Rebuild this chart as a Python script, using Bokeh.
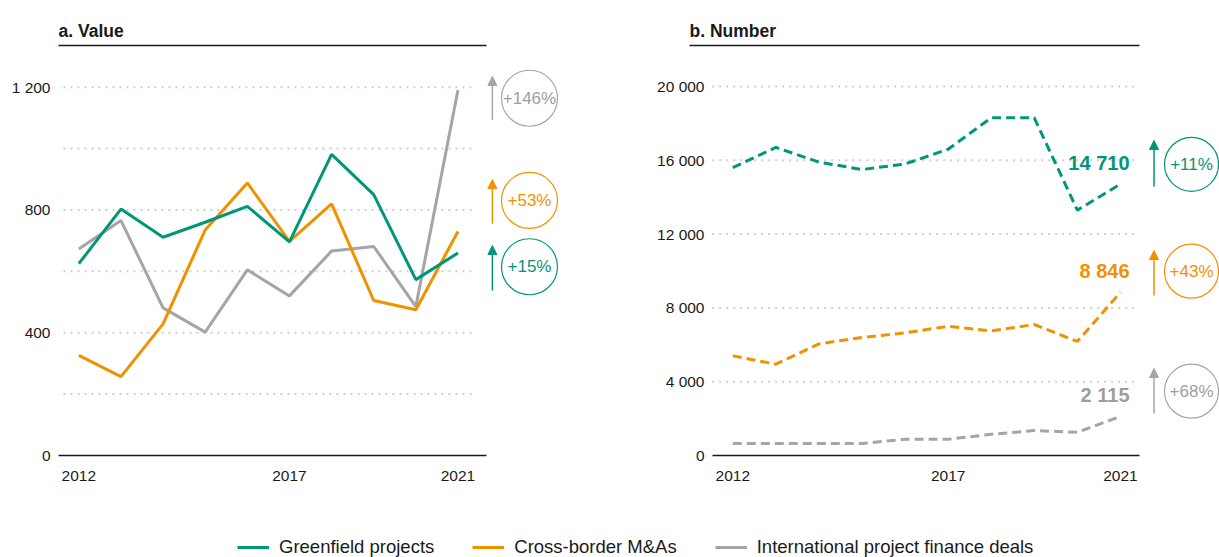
from bokeh.plotting import figure
from bokeh.layouts import column, row
from bokeh.models import (LinearAxis, FixedTicker, Range1d, Arrow, NormalHead,
                          Legend, LegendItem)
from bokeh.embed import file_html
from bokeh.resources import INLINE
from bokeh.core.properties import value

# ---------------- data ----------------
years = list(range(2012, 2022))

value_greenfield = [625, 803, 711, 760, 812, 696, 981, 850, 573, 660]
value_mna = [326, 257, 429, 735, 888, 698, 820, 505, 475, 730]
value_finance = [673, 766, 481, 402, 605, 520, 666, 681, 485, 1191]

number_greenfield = [15600, 16700, 15900, 15500, 15800, 16600, 18300, 18300, 13300, 14710]
number_mna = [5400, 4950, 6050, 6400, 6650, 7000, 6750, 7100, 6180, 8846]
number_finance = [650, 650, 650, 650, 880, 880, 1150, 1350, 1260, 2115]

value_change = ["+15%", "+53%", "+146%"]
number_change = ["+11%", "+43%", "+68%"]

x_ticks = [2012, 2017, 2021]
value_ticks = [0, 400, 800, 1200]
value_tick_labels = ["0", "400", "800", "1 200"]
value_grid = [200, 400, 600, 800, 1000, 1200]
number_ticks = [0, 4000, 8000, 12000, 16000, 20000]
number_tick_labels = ["0", "4 000", "8 000", "12 000", "16 000", "20 000"]
number_grid = [4000, 8000, 12000, 16000, 20000]

series_names = ["Greenfield projects", "Cross-border M&As", "International project finance deals"]

# ---------------- style ----------------
GREEN = "#00967A"
ORANGE = "#F29100"
GRAY = "#A5A5A5"
GRAY_TEXT = "#9E9E9E"
INK = "#1A1A1A"
GRID = "#CFCFCF"
SANS = "Liberation Sans"
colors = [GREEN, ORANGE, GRAY]

H = 500


def make_panel(title, width, b_left, b_right, xr, yr, ticks, tick_labels, grid_vals,
               axis_bounds, grid_bounds, ylabel_standoff):
    p = figure(width=width, height=H, output_backend="svg", toolbar_location=None,
               x_range=Range1d(*xr), y_range=Range1d(*yr),
               x_axis_type=None, y_axis_type=None,
               min_border_left=b_left, min_border_right=b_right,
               min_border_top=45, min_border_bottom=45)
    p.outline_line_color = None
    p.background_fill_color = None
    p.border_fill_color = None

    p.title.text = title
    p.title.align = "left"
    p.title.text_font = SANS
    p.title.text_font_size = "17.5px"
    p.title.text_font_style = "bold"
    p.title.text_color = INK
    p.title.standoff = 9

    top = LinearAxis(ticker=FixedTicker(ticks=[]), bounds=(xr[0], axis_bounds[1]),
                     axis_line_color=INK, axis_line_width=1.5,
                     major_tick_out=0, major_tick_in=0, minor_tick_out=0, minor_tick_in=0,
                     major_label_standoff=0, major_label_text_font_size="0px")
    p.add_layout(top, "above")

    xaxis = LinearAxis(ticker=FixedTicker(ticks=x_ticks), bounds=axis_bounds,
                       axis_line_color=INK, axis_line_width=1.5,
                       major_tick_out=0, major_tick_in=0, minor_tick_out=0, minor_tick_in=0,
                       major_tick_line_color=None, minor_tick_line_color=None,
                       major_label_standoff=15,
                       major_label_text_font=SANS, major_label_text_font_size="15.5px",
                       major_label_text_color=INK)
    p.add_layout(xaxis, "below")

    yaxis = LinearAxis(ticker=FixedTicker(ticks=ticks),
                       major_label_overrides={t: l for t, l in zip(ticks, tick_labels)},
                       axis_line_color=None,
                       major_tick_out=0, major_tick_in=0, minor_tick_out=0, minor_tick_in=0,
                       major_tick_line_color=None, minor_tick_line_color=None,
                       major_label_standoff=ylabel_standoff,
                       major_label_text_font=SANS, major_label_text_font_size="15.5px",
                       major_label_text_color=INK)
    p.add_layout(yaxis, "left")

    n = len(grid_vals)
    p.segment(x0=[grid_bounds[0]] * n, x1=[grid_bounds[1]] * n, y0=grid_vals, y1=grid_vals,
              line_color=GRID, line_width=2, line_dash="2 5")
    return p


# ---------- panel a ----------
ppy_a = 42.13
xa0 = 2011.518
pa = make_panel("a. Value", 620, 58, 55, (xa0, xa0 + 507 / ppy_a), (0, 410 / 0.30692),
                value_ticks, value_tick_labels, value_grid,
                (2011.525, 2021.67), (2011.47, 2021.408), 8)
for vals, c in zip([value_finance, value_mna, value_greenfield], [GRAY, ORANGE, GREEN]):
    pa.line(years, vals, line_color=c, line_width=3)

arrow_x_a = years[-1] + 34.4 / ppy_a
circle_x_a = years[-1] + 71.5 / ppy_a
a_tails = [538, 755, 1094]
a_tips = [684, 899, 1235]
a_circles = [615, 831, 1164]
for c, t0, t1 in zip(colors, a_tails, a_tips):
    pa.add_layout(Arrow(end=NormalHead(size=9, fill_color=c, line_color=c, line_width=1),
                        x_start=arrow_x_a, y_start=t0, x_end=arrow_x_a, y_end=t1,
                        line_color=c, line_width=1.5))
pa.scatter([circle_x_a] * 3, a_circles, size=56, marker="circle", fill_color=None,
           line_color=colors, line_width=1.2)
pa.text([circle_x_a] * 3, a_circles, text=value_change, text_align="center",
        text_baseline="middle", text_font=value(SANS), text_font_size="17px",
        text_color=[GREEN, ORANGE, GRAY_TEXT])

# ---------- panel b ----------
ppy_b = 43.07
xb0 = 2010.995
pb = make_panel("b. Number", 599, 69, 0, (xb0, xb0 + 530 / ppy_b), (0, 410 / 0.01845),
                number_ticks, number_tick_labels, number_grid,
                (2011.522, 2021.45), (2011.522, 2021.378), -15)
for vals, c in zip([number_finance, number_mna, number_greenfield], [GRAY, ORANGE, GREEN]):
    pb.line(years, vals, line_color=c, line_width=3, line_dash="9 5")

last_vals = [number_greenfield[-1], number_mna[-1], number_finance[-1]]
last_txt = [f"{v:,}".replace(",", " ") for v in last_vals]
pb.text([years[-1] + 9.1 / ppy_b] * 3, last_vals, text=last_txt, text_align="right",
        text_baseline="middle", y_offset=-21, text_font=value(SANS), text_font_size="20px",
        text_font_style="bold", text_color=[GREEN, ORANGE, GRAY_TEXT])

arrow_x_b = years[-1] + 33.6 / ppy_b
circle_x_b = years[-1] + 71.1 / ppy_b
b_tails = [14580, 8672, 2276]
b_tips = [17073, 11111, 4715]
b_circles = [15783, 9989, 3485]
for c, t0, t1 in zip(colors, b_tails, b_tips):
    pb.add_layout(Arrow(end=NormalHead(size=9, fill_color=c, line_color=c, line_width=1),
                        x_start=arrow_x_b, y_start=t0, x_end=arrow_x_b, y_end=t1,
                        line_color=c, line_width=1.5))
pb.scatter([circle_x_b] * 3, b_circles, size=54, marker="circle", fill_color=None,
           line_color=colors, line_width=1.2)
pb.text([circle_x_b] * 3, b_circles, text=number_change, text_align="center",
        text_baseline="middle", text_font=value(SANS), text_font_size="17px",
        text_color=[GREEN, ORANGE, GRAY_TEXT])

# ---------- legend ----------
pl = figure(width=1219, height=57, output_backend="svg", toolbar_location=None,
            x_axis_type=None, y_axis_type=None, min_border=0,
            x_range=Range1d(0, 1), y_range=Range1d(0, 1))
pl.outline_line_color = None
pl.background_fill_color = None
pl.border_fill_color = None
items = []
for name, c in zip(series_names, colors):
    r = pl.line(x=[-5, -4], y=[-5, -5], line_color=c, line_width=3)
    items.append(LegendItem(label=name, renderers=[r]))
legend = Legend(items=items, orientation="horizontal", location=(237, -1),
                glyph_width=32, glyph_height=20, label_standoff=10, spacing=38,
                padding=0, margin=0, border_line_color=None, background_fill_alpha=0,
                label_text_font=SANS, label_text_font_size="18.5px", label_text_color=INK)
pl.add_layout(legend)

layout = column(row(pa, pb), pl)
open("out.html", "w").write(file_html(layout, INLINE))
